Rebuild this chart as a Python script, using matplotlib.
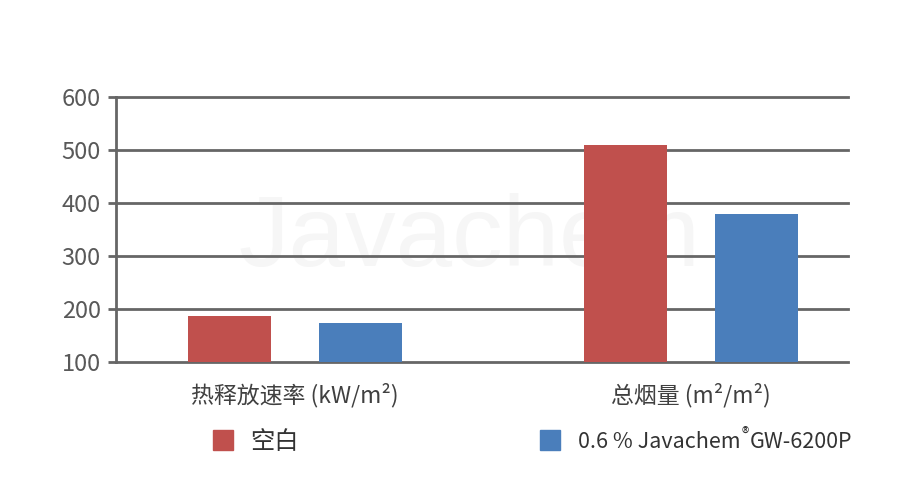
import matplotlib
matplotlib.use('Agg')
from matplotlib import pyplot as plt
from matplotlib.patches import Rectangle

plt.rcParams['font.family'] = ['Noto Sans CJK SC', 'DejaVu Sans']

categories = ['热释放速率 (kW/m²)', '总烟量 (m²/m²)']
blank_values = [187, 509]
javachem_values = [174, 380]
series_names = ['空白', '0.6 % Javachem']
y_ticks = [100, 200, 300, 400, 500, 600]

RED = '#c0504d'
BLUE = '#4a7ebb'
GRID = '#666666'
TEXT = '#595959'

W, H = 924, 497
fig = plt.figure(figsize=(W / 100, H / 100), dpi=100)
ax = fig.add_axes([116 / W, (H - 362) / H, 732 / W, 265 / H])

x = [0, 1]
bw = 0.21
off = 0.165
ax.bar([i - off for i in x], blank_values, width=bw, color=RED, zorder=3)
ax.bar([i + off for i in x], javachem_values, width=bw, color=BLUE, zorder=3)

ax.set_ylim(100, 600)
ax.set_xlim(-0.452, 1.396)
ax.set_yticks(y_ticks)
ax.yaxis.grid(True, color=GRID, linewidth=2, zorder=1)
ax.set_axisbelow(True)
for gl in ax.get_ygridlines():
    gl.set_clip_on(False)
ax.tick_params(axis='y', length=6, width=2, color=GRID, labelsize=17,
               labelcolor=TEXT, pad=5)
ax.set_xticks(x)
ax.set_xticklabels(categories, fontsize=16.5, color='#404040')
ax.tick_params(axis='x', length=0, pad=15)
for s in ['top', 'right', 'bottom']:
    ax.spines[s].set_visible(False)
ax.spines['left'].set_color(GRID)
ax.spines['left'].set_linewidth(2)

# watermark
fig.text(469 / W, 1 - 240 / H, 'Javachem', family='Liberation Sans',
         fontsize=73, color='#f6f6f6', ha='center', va='center', zorder=0)
ax.set_zorder(1)
ax.patch.set_alpha(0)

# legend
fig.patches.append(Rectangle((213 / W, 1 - 450 / H), 20 / W, 20 / H,
                             transform=fig.transFigure, color=RED))
fig.patches.append(Rectangle((540 / W, 1 - 450 / H), 20 / W, 20 / H,
                             transform=fig.transFigure, color=BLUE))
fig.text(250 / W, 1 - 442 / H, series_names[0], fontsize=17.5,
         color='#333333', va='center')
t = fig.text(578 / W, 1 - 442 / H, series_names[1], fontsize=15.5,
             color='#333333', va='center')
fig.canvas.draw()
bb = t.get_window_extent()
r = fig.text(bb.x1 / W + 1 / W, 1 - 434 / H, '®', fontsize=11,
             color='#333333', va='center')
fig.canvas.draw()
bb2 = r.get_window_extent()
fig.text(bb2.x1 / W + 1 / W, 1 - 442 / H, 'GW-6200P', fontsize=15.5,
         color='#333333', va='center')

fig.savefig('out.png', dpi=100)
